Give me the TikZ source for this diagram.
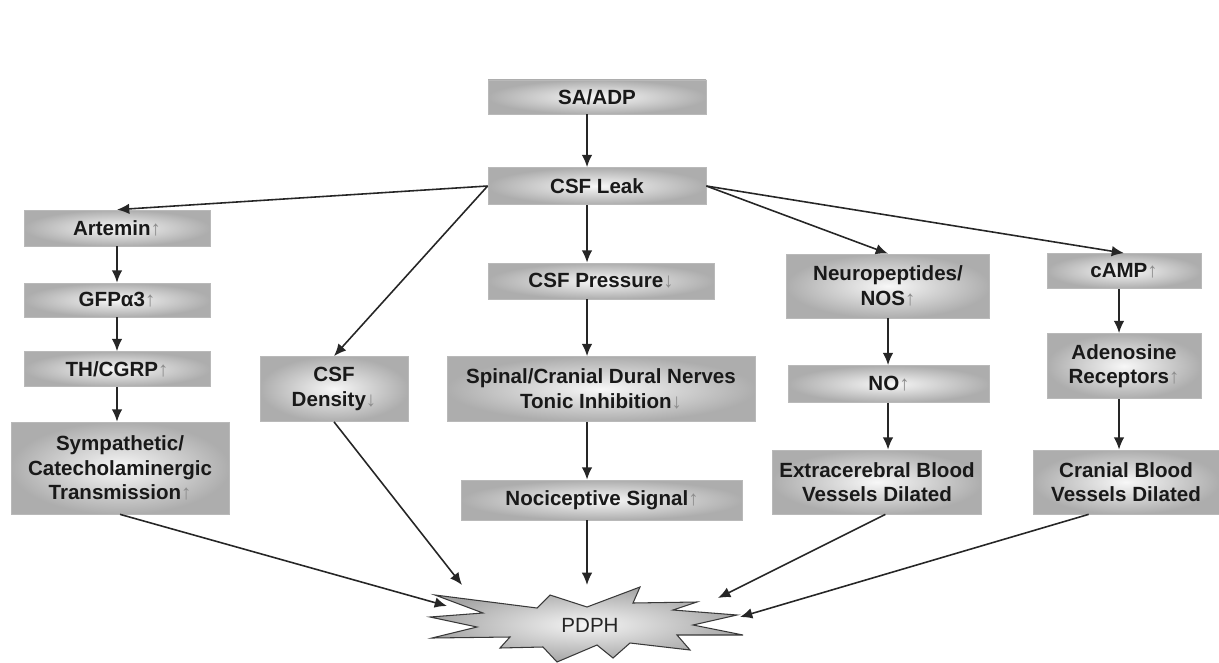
\documentclass[tikz,border=0pt]{standalone}
\usepackage{fontspec}
\setmainfont{Liberation Sans}
\usepackage{xcolor}
\usetikzlibrary{arrows.meta,calc}

\newcommand{\upar}{\textcolor{gray!90}{↑}}
\newcommand{\dnar}{\textcolor{gray!90}{↓}}

\begin{document}
\begin{tikzpicture}[x=0.02cm, y=-0.02cm,
    box/.style={rectangle, draw=gray!55, inner color=gray!6, outer color=gray!64,
        text=black!90, font=\bfseries\fontsize{11.7}{14}\selectfont, align=center, inner sep=0pt},
    sz/.style 2 args={minimum width=#1*0.02cm, minimum height=#2*0.02cm},
    arr/.style={-{Latex[length=7pt,width=6pt]}, line width=0.9pt, black!85}]

    \useasboundingbox (0,0) rectangle (1219,662);
    \coordinate (axis) at (587,0);
    \coordinate (raxis) at (1119,0);

    % top of the chain
    \node[box, sz={218}{34}] (sa) at (597,97) {SA/ADP};
    \node[box, sz={218}{37}] (leak) at (597,186) {CSF Leak};

    % left column
    \node[box, sz={186}{36}] (art) at (117,228) {Artemin\upar};
    \node[box, sz={186}{34}] (gfp) at (117,300) {GFPα3\upar};
    \node[box, sz={186}{35}] (th) at (117,369) {TH/CGRP\upar};
    \node[box, sz={218}{92}] (symp) at (120,468) {Sympathetic/\\Catecholaminergic\\Transmission\upar};

    \node[box, sz={148}{65}] (dens) at (334,389) {CSF\\Density\dnar};

    % middle column
    \node[box, sz={226}{36}] (pres) at (601,281) {CSF Pressure\dnar};
    \node[box, sz={308}{65}] (spin) at (601,389) {Spinal/Cranial Dural Nerves\\Tonic Inhibition\dnar};
    \node[box, sz={281}{40}] (noci) at (602,500) {Nociceptive Signal\upar};

    % right columns
    \node[box, sz={203}{64}] (neuro) at (888,286) {Neuropeptides/\\NOS\upar};
    \node[box, sz={201}{37}] (no) at (889,384) {NO\upar};
    \node[box, sz={209}{64}] (extra) at (877,482) {Extracerebral Blood\\Vessels Dilated};
    \node[box, sz={154}{35}] (camp) at (1124,271) {cAMP\upar};
    \node[box, sz={154}{65}] (aden) at (1124,366) {Adenosine\\Receptors\upar};
    \node[box, sz={186}{64}] (cran) at (1126,482) {Cranial Blood\\Vessels Dilated};

    % PDPH burst
    \shadedraw[inner color=gray!8, outer color=gray!70, draw=gray!45!black, line width=0.6pt]
        (435,595) -- (537,608) -- (550,595) -- (587,607) -- (640,587) -- (633,603)
        -- (697,602) -- (673,610) -- (737,615) -- (693,625) -- (743,635) -- (677,635)
        -- (690,650) -- (630,643) -- (613,658) -- (597,645) -- (557,662) -- (543,647)
        -- (500,648) -- (510,637) -- (432,638) -- (477,627) -- (430,617) -- (483,613) -- cycle;
    \node[font=\fontsize{11.7}{14}\selectfont, text=black!85] (pdph) at (590,625) {PDPH};
    \coordinate (in1) at (447,606);
    \coordinate (in2) at (462,585);
    \coordinate (in3) at (587,585);
    \coordinate (in4) at (718,598);
    \coordinate (in5) at (740,617);

    \draw[arr] (sa.south -| axis) -- (leak.north -| axis);
    \draw[arr] (leak.west) -- (art.north);
    \draw[arr] (leak.west) -- (dens.north);
    \draw[arr] (leak.south -| axis) -- (pres.north -| axis);
    \draw[arr] (leak.east) -- (neuro.north);
    \draw[arr] (leak.east) -- (camp.north);

    \draw[arr] (art) -- (gfp);
    \draw[arr] (gfp) -- (th);
    \draw[arr] (th) -- (th |- symp.north);

    \draw[arr] (pres.south -| axis) -- (spin.north -| axis);
    \draw[arr] (spin.south -| axis) -- (noci.north -| axis);

    \draw[arr] (neuro.south) -- (no.north -| neuro.south);
    \draw[arr] (no.south -| neuro.south) -- (extra.north -| neuro.south);
    \draw[arr] (camp.south -| raxis) -- (aden.north -| raxis);
    \draw[arr] (aden.south -| raxis) -- (cran.north -| raxis);

    \draw[arr] (symp.south) -- (in1);
    \draw[arr] (dens.south) -- (in2);
    \draw[arr] (noci.south -| axis) -- (in3);
    \draw[arr] ($(extra.south west)!0.54!(extra.south east)$) -- (in4);
    \draw[arr] ($(cran.south west)!0.3!(cran.south east)$) -- (in5);
\end{tikzpicture}
\end{document}
